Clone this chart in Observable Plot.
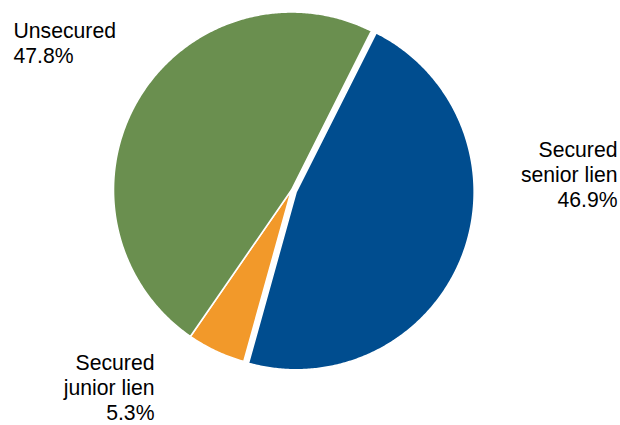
<!DOCTYPE html>
<html>
<head>
<meta charset="utf-8">
<script src="https://cdn.jsdelivr.net/npm/d3@7"></script>
<script src="https://cdn.jsdelivr.net/npm/@observablehq/plot@0.6"></script>
<style>
  html, body { margin: 0; padding: 0; background: #ffffff; }
  #chart { width: 620px; height: 425px; overflow: hidden; }
</style>
</head>
<body>
<div id="chart"></div>
<script>
// ---- data ----
const categories = ["Secured senior lien", "Secured junior lien", "Unsecured"];
const values = [46.9, 5.3, 47.8];
const labelLines = ["Secured\nsenior lien", "Secured\njunior lien", "Unsecured"];
const colors = ["#004d8f", "#f2992a", "#6a8f4f"];

// ---- layout (not data) ----
const W = 620, H = 425;
const CX = 291, CY = 189.5, R = 178;   // pie centre and radius in pixels
const START_DEG = 26.7;                 // clockwise from 12 o'clock
const EXPLODE = [5 / R, 0, 0];          // offset of each slice, in radius units

const total = d3.sum(values);
const pts = [];
let acc = START_DEG;
categories.forEach((name, i) => {
  const a0 = acc, a1 = acc + values[i] / total * 360;
  acc = a1;
  const mid = (a0 + a1) / 2 * Math.PI / 180;
  const ox = EXPLODE[i] * Math.sin(mid), oy = EXPLODE[i] * Math.cos(mid);
  pts.push({name, x: ox, y: oy});
  const n = Math.ceil((a1 - a0) / 0.5);
  for (let k = 0; k <= n; k++) {
    const a = (a0 + (a1 - a0) * k / n) * Math.PI / 180;
    pts.push({name, x: ox + Math.sin(a), y: oy + Math.cos(a)});
  }
});

const fmt = v => v.toFixed(1) + "%";
const label = i => labelLines[i] + "\n" + fmt(values[i]);
const textStyle = {fontSize: 21.2, lineHeight: 1.18, lineAnchor: "top", fill: "#000", text: d => d};

const chart = Plot.plot({
  width: W, height: H,
  margin: 0,
  style: {fontFamily: "'Liberation Sans', Arial, sans-serif", background: "#ffffff"},
  x: {domain: [-CX / R, (W - CX) / R], axis: null},
  y: {domain: [-(H - CY) / R, CY / R], axis: null},
  color: {domain: categories, range: colors},
  marks: [
    Plot.line(pts, {x: "x", y: "y", z: "name", fill: "name", stroke: "#ffffff", strokeWidth: 1.6, curve: "linear-closed"}),
    Plot.text([label(2)], {...textStyle, frameAnchor: "top-left", textAnchor: "start", dx: 13, dy: 19.5}),
    Plot.text([label(0)], {...textStyle, frameAnchor: "top-right", textAnchor: "end", dx: -3, dy: 139}),
    Plot.text([label(1)], {...textStyle, frameAnchor: "top-left", textAnchor: "end", dx: 154, dy: 352})
  ]
});
document.getElementById("chart").appendChild(chart);
</script>
</body>
</html>
